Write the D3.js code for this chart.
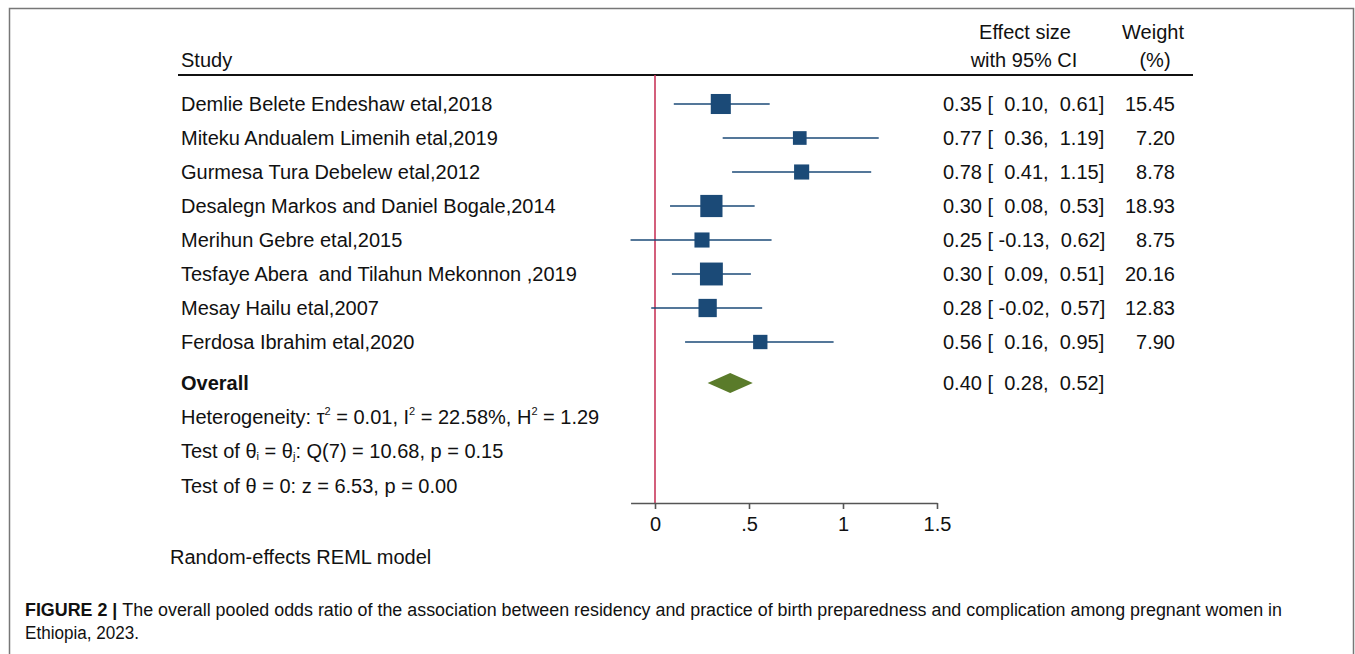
<!DOCTYPE html>
<html>
<head>
<meta charset="utf-8">
<script src="https://cdn.jsdelivr.net/npm/d3@7"></script>
<style>
  html, body { margin: 0; padding: 0; background: #fff; }
  svg text { font-family: "Liberation Sans", Arial, sans-serif; fill: #111; }
  .pre { white-space: pre; }
</style>
</head>
<body>
<svg id="chart" width="1355" height="654"></svg>
<script>
// Study-level estimates (effect size with 95% CI) and random-effects weights
const studies = [
  "Demlie Belete Endeshaw etal,2018",
  "Miteku Andualem Limenih etal,2019",
  "Gurmesa Tura Debelew etal,2012",
  "Desalegn Markos and Daniel Bogale,2014",
  "Merihun Gebre etal,2015",
  "Tesfaye Abera  and Tilahun Mekonnon ,2019",
  "Mesay Hailu etal,2007",
  "Ferdosa Ibrahim etal,2020"
];
const effect = [0.35, 0.77, 0.78, 0.30, 0.25, 0.30, 0.28, 0.56];
const lower  = [0.10, 0.36, 0.41, 0.08, -0.13, 0.09, -0.02, 0.16];
const upper  = [0.61, 1.19, 1.15, 0.53, 0.62, 0.51, 0.57, 0.95];
const weight = [15.45, 7.20, 8.78, 18.93, 8.75, 20.16, 12.83, 7.90];

// Pooled estimate
const overallEffect = 0.40, overallLower = 0.28, overallUpper = 0.52;

// Axis ticks
const xTicks = [0, 0.5, 1, 1.5];

const svg = d3.select("#chart");

// Figure frame
svg.append("path")
  .attr("d", "M9.5,654 V8.5 H1353.5 V654")
  .attr("fill", "none").attr("stroke", "#777").attr("stroke-width", 1.5);

// Scales
const x = d3.scaleLinear().domain([0, 1.5]).range([655, 937]);
const y = d3.scaleLinear().domain([0, studies.length - 1]).range([104, 342]);
const yOverall = 383;
const yAxis = 503;
const side = d3.scaleSqrt().domain([0, d3.max(weight)]).range([0, 22.9]);

const fs = 20;
const blue = "#1b4a77";

// Column headers
svg.append("text").attr("x", 181).attr("y", 60).attr("dy", "0.35em").attr("font-size", fs).text("Study");
svg.append("text").attr("x", 1025).attr("y", 32).attr("dy", "0.35em").attr("font-size", fs).attr("text-anchor", "middle").text("Effect size");
svg.append("text").attr("x", 1024).attr("y", 60).attr("dy", "0.35em").attr("font-size", fs).attr("text-anchor", "middle").text("with 95% CI");
svg.append("text").attr("x", 1153).attr("y", 32).attr("dy", "0.35em").attr("font-size", fs).attr("text-anchor", "middle").text("Weight");
svg.append("text").attr("x", 1155).attr("y", 60).attr("dy", "0.35em").attr("font-size", fs).attr("text-anchor", "middle").text("(%)");
svg.append("line").attr("x1", 178).attr("x2", 1193).attr("y1", 75).attr("y2", 75)
  .attr("stroke", "#111").attr("stroke-width", 2);

// Reference line at zero
svg.append("line").attr("x1", x(0)).attr("x2", x(0)).attr("y1", 75).attr("y2", yAxis)
  .attr("stroke", "#c8365a").attr("stroke-width", 1.6);

const fmt = v => v.toFixed(2);
const pad = v => (v < 0 ? " " : "  ") + fmt(v);
const ciText = (e, l, u) => fmt(e) + " [" + pad(l) + "," + pad(u) + "]";

const rows = svg.append("g").selectAll("g").data(studies).join("g");
rows.append("text").attr("x", 181).attr("y", (d, i) => y(i)).attr("dy", "0.35em")
  .attr("font-size", fs).attr("class", "pre").text(d => d);
rows.append("line")
  .attr("x1", (d, i) => x(lower[i])).attr("x2", (d, i) => x(upper[i]))
  .attr("y1", (d, i) => y(i)).attr("y2", (d, i) => y(i))
  .attr("stroke", blue).attr("stroke-width", 1.6);
rows.append("rect")
  .attr("x", (d, i) => x(effect[i]) - side(weight[i]) / 2)
  .attr("y", (d, i) => y(i) - side(weight[i]) / 2)
  .attr("width", (d, i) => side(weight[i]))
  .attr("height", (d, i) => side(weight[i]))
  .attr("fill", blue);
rows.append("text").attr("x", 943).attr("y", (d, i) => y(i)).attr("dy", "0.35em")
  .attr("font-size", fs).attr("class", "pre")
  .text((d, i) => ciText(effect[i], lower[i], upper[i]));
rows.append("text").attr("x", 1175).attr("y", (d, i) => y(i)).attr("dy", "0.35em")
  .attr("font-size", fs).attr("text-anchor", "end").text((d, i) => fmt(weight[i]));

// Overall row
svg.append("text").attr("x", 181).attr("y", yOverall).attr("dy", "0.35em")
  .attr("font-size", fs).attr("font-weight", "bold").text("Overall");
svg.append("path")
  .attr("d", `M${x(overallLower)},${yOverall} L${x(overallEffect)},${yOverall - 10} L${x(overallUpper)},${yOverall} L${x(overallEffect)},${yOverall + 10} Z`)
  .attr("fill", "#5a7b2a");
svg.append("text").attr("x", 943).attr("y", yOverall).attr("dy", "0.35em")
  .attr("font-size", fs).attr("class", "pre")
  .text(ciText(overallEffect, overallLower, overallUpper));

// Heterogeneity and test statistics
function statLine(yPos, parts) {
  const t = svg.append("text").attr("x", 181).attr("y", yPos).attr("dy", "0.35em").attr("font-size", fs);
  parts.forEach(p => {
    const s = t.append("tspan").text(p.t);
    if (p.sup) s.attr("font-size", 11).attr("baseline-shift", "85%");
    if (p.sub) s.attr("font-size", 11).attr("baseline-shift", "-20%");
  });
}
statLine(417, [
  { t: "Heterogeneity: τ" }, { t: "2", sup: true },
  { t: " = 0.01, I" }, { t: "2", sup: true },
  { t: " = 22.58%, H" }, { t: "2", sup: true }, { t: " = 1.29" }
]);
statLine(451, [
  { t: "Test of θ" }, { t: "i", sub: true }, { t: " = θ" }, { t: "j", sub: true },
  { t: ": Q(7) = 10.68, p = 0.15" }
]);
statLine(486, [{ t: "Test of θ = 0: z = 6.53, p = 0.00" }]);

// X axis spanning from the lowest CI bound to 1.5
const minLo = d3.min(lower);
const xAxisScale = x.copy().domain([minLo, 1.5]).range([x(minLo), x(1.5)]);
const axis = svg.append("g").attr("transform", `translate(0,${yAxis})`)
  .call(d3.axisBottom(xAxisScale).tickValues(xTicks).tickSizeInner(6).tickSizeOuter(0)
    .tickFormat(d => d === 0 ? "0" : String(d).replace(/^0\./, ".")));
axis.select(".domain").attr("stroke", "#555").attr("stroke-width", 1.6);
axis.selectAll(".tick line").attr("stroke", "#555").attr("stroke-width", 1.6);
axis.selectAll(".tick text").attr("font-size", fs).attr("font-family", "Liberation Sans, Arial, sans-serif")
  .attr("fill", "#111").attr("y", 14);

svg.append("text").attr("x", 170).attr("y", 557).attr("dy", "0.35em").attr("font-size", fs)
  .text("Random-effects REML model");

// Caption
const cap = svg.append("text").attr("x", 25).attr("y", 610).attr("dy", "0.35em")
  .attr("font-size", 18)
  .attr("textLength", 1257).attr("lengthAdjust", "spacingAndGlyphs");
cap.append("tspan").attr("font-weight", "bold").text("FIGURE 2 | ");
cap.append("tspan").text("The overall pooled odds ratio of the association between residency and practice of birth preparedness and complication among pregnant women in");
svg.append("text").attr("x", 25).attr("y", 633).attr("dy", "0.35em")
  .attr("font-size", 18)
  .attr("textLength", 114).attr("lengthAdjust", "spacingAndGlyphs")
  .text("Ethiopia, 2023.");
</script>
</body>
</html>
